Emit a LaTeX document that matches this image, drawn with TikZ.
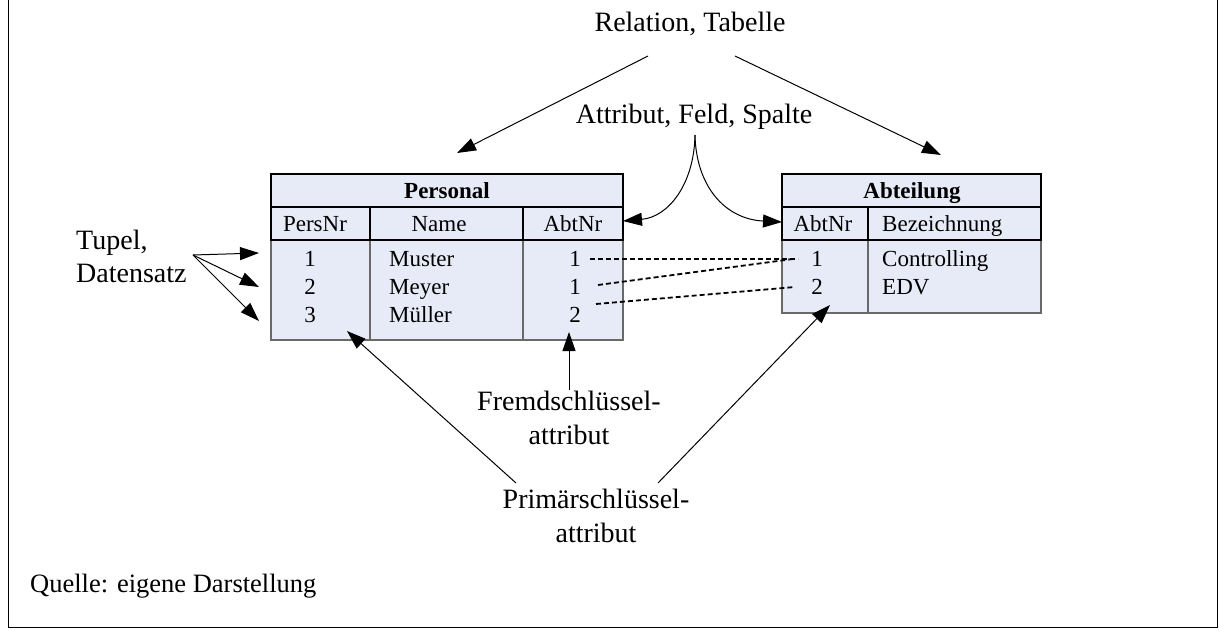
\documentclass[tikz,border=0pt]{standalone}
\usepackage{fontspec}
\setmainfont{Liberation Serif}
\usetikzlibrary{arrows.meta}
\definecolor{tabfill}{RGB}{231,235,247}
\definecolor{tabgrey}{RGB}{105,105,105}
\begin{document}
\begin{tikzpicture}[x=1pt,y=-1pt,
  lbl/.style={font=\fontsize{28}{33}\selectfont, inner sep=0pt, anchor=base},
  cell/.style={font=\fontsize{23}{26}\selectfont, inner sep=0pt, anchor=base},
  ptr/.style={line width=1pt, -{Triangle[length=19pt,width=13pt]}},
  link/.style={line width=1.8pt, dash pattern=on 5pt off 3pt},
  hdr/.style={line width=2.2pt, draw=black},
  hsep/.style={line width=1.5pt, draw=black},
  body/.style={line width=1.6pt, draw=tabgrey}]
\useasboundingbox (0,0) rectangle (1219,630);
% outer frame
\draw[line width=1.6pt] (8.5,-10) rectangle (1217.5,627.5);

% ---------- table Personal ----------
\fill[tabfill] (271,174) rectangle (623,340);
\draw[body] (271,240) rectangle (623,340);
\draw[body] (370,240) -- (370,340);
\draw[body] (523,240) -- (523,340);
\draw[hsep] (370,207) -- (370,240);
\draw[hsep] (523,207) -- (523,240);
\draw[hdr] (271,174) rectangle (623,240);
\draw[hdr] (271,207) -- (623,207);
\node[cell, font=\fontsize{23}{26}\selectfont\bfseries] (pTitle) at (447,198) {Personal};
\node[cell] (pH1) at (315,231) {PersNr};
\node[cell] (pH2) at (439,231) {Name};
\node[cell] (pH3) at (573,231) {AbtNr};
\node[cell] (pA1) at (310,266) {1};
\node[cell] (pA2) at (310,294) {2};
\node[cell] (pA3) at (310,322) {3};
\node[cell, anchor=base west] (pB1) at (389,266) {Muster};
\node[cell, anchor=base west] (pB2) at (389,294) {Meyer};
\node[cell, anchor=base west] (pB3) at (389,322) {Müller};
\node[cell] (pC1) at (575,266) {1};
\node[cell] (pC2) at (575,294) {1};
\node[cell] (pC3) at (575,322) {2};

% ---------- table Abteilung ----------
\fill[tabfill] (782,174) rectangle (1041,313);
\draw[body] (782,240) rectangle (1041,313);
\draw[body] (868,240) -- (868,313);
\draw[hsep] (868,207) -- (868,240);
\draw[hdr] (782,174) rectangle (1041,240);
\draw[hdr] (782,207) -- (1041,207);
\node[cell, font=\fontsize{23}{26}\selectfont\bfseries] (aTitle) at (912,198) {Abteilung};
\node[cell] (aH1) at (823,231) {AbtNr};
\node[cell, anchor=base west] (aH2) at (882,231) {Bezeichnung};
\node[cell] (aA1) at (817,266) {1};
\node[cell] (aA2) at (817,294) {2};
\node[cell, anchor=base west] (aB1) at (882,266) {Controlling};
\node[cell, anchor=base west] (aB2) at (882,294) {EDV};

% ---------- foreign key links ----------
\coordinate (k1s) at (590,259);
\coordinate (k2s) at (598,285);
\coordinate (k3s) at (596,304);
\coordinate (t1) at (798,259);
\coordinate (t1b) at (793,259);
\coordinate (t2) at (795,287);
\draw[link] (k1s) -- (t1);
\draw[link] (k2s) -- (t1b);
\draw[link] (k3s) -- (t2);

% ---------- labels ----------
\node[lbl] (rel) at (690,31) {Relation, Tabelle};
\node[lbl] (attr) at (694,123) {Attribut, Feld, Spalte};
\node[lbl, anchor=base west] (tupA) at (76,249) {Tupel,};
\node[lbl, anchor=base west] (tupB) at (76,282) {Datensatz};
\node[lbl] (fremdA) at (569,410) {Fremdschlüssel-};
\node[lbl] (fremdB) at (569,444) {attribut};
\node[lbl] (primA) at (596,508) {Primärschlüssel-};
\node[lbl] (primB) at (596,542) {attribut};
\node[lbl, anchor=base west, font=\fontsize{26.5}{30}\selectfont] (quelle) at (30,592) {Quelle: eigene Darstellung};

% ---------- pointers ----------
\coordinate (relL) at (648,56);
\coordinate (relR) at (735,56);
\coordinate (relLt) at (457,153);
\coordinate (relRt) at (941,155);
\draw[ptr] (relL) -- (relLt);
\draw[ptr] (relR) -- (relRt);

\coordinate (attS) at (695,135);
\coordinate (attL) at (623,221);
\coordinate (attR) at (782,222);
\draw[ptr] (attS) .. controls (694,185) and (668,217) .. (attL);
\draw[ptr] (attS) .. controls (696,185) and (724,219) .. (attR);

\coordinate (tupS) at (193,255);
\coordinate (tupT1) at (259,253);
\coordinate (tupT2) at (259,287);
\coordinate (tupT3) at (259,321);
\draw[ptr] (tupS) -- (tupT1);
\draw[ptr] (tupS) -- (tupT2);
\draw[ptr] (tupS) -- (tupT3);

\coordinate (fremdS) at (569,390);
\coordinate (fremdT) at (569,332);
\draw[ptr] (fremdS) -- (fremdT);

\coordinate (primL) at (516,483);
\coordinate (primR) at (658,483);
\coordinate (primLt) at (347,331);
\coordinate (primRt) at (830,305);
\draw[ptr] (primL) -- (primLt);
\draw[ptr] (primR) -- (primRt);
\end{tikzpicture}
\end{document}
